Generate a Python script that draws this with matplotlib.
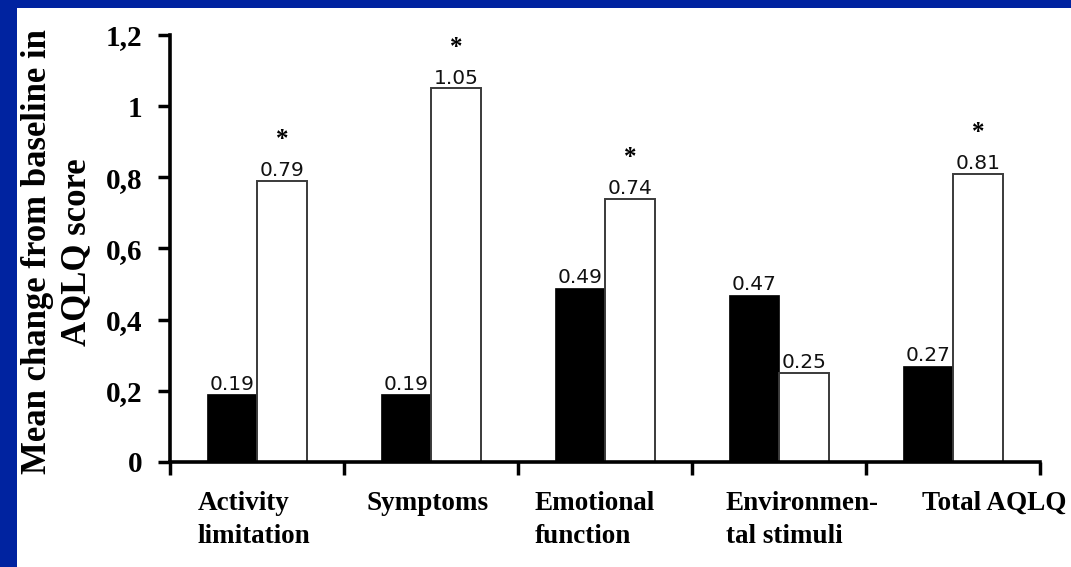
import matplotlib
matplotlib.use("Agg")
import matplotlib.pyplot as plt
import matplotlib.transforms as mtransforms
from matplotlib.patches import Rectangle
import numpy as np

# AQLQ domains and mean change from baseline for the two groups
categories = ["Activity\nlimitation", "Symptoms", "Emotional\nfunction",
              "Environmen-\ntal stimuli", "Total AQLQ"]
group_a = [0.19, 0.19, 0.49, 0.47, 0.27]
group_b = [0.79, 1.05, 0.74, 0.25, 0.81]
significant_b = [True, True, True, False, True]

y_ticks = [0, 0.2, 0.4, 0.6, 0.8, 1.0, 1.2]
y_tick_labels = ["0", "0,2", "0,4", "0,6", "0,8", "1", "1,2"]

serif = "Liberation Serif"
sans = "DejaVu Sans"

fig = plt.figure(figsize=(10.71, 5.67), dpi=100)
fig.patch.set_facecolor("white")

# blue slide frame along the top and left edges
frame_blue = "#0023a0"
fig.patches.append(Rectangle((0, 1 - 8 / 567), 1, 8 / 567, transform=fig.transFigure,
                             facecolor=frame_blue, edgecolor="none", zorder=0))
fig.patches.append(Rectangle((0, 0), 17 / 1071, 1, transform=fig.transFigure,
                             facecolor=frame_blue, edgecolor="none", zorder=0))

ax = fig.add_axes([170 / 1071, 1 - 462 / 567, 870 / 1071, 427 / 567])

x = np.arange(len(categories))
width = 0.29

bars_a = ax.bar(x - width / 2, group_a, width, color="black", edgecolor="black",
                linewidth=0.5, zorder=2)
bars_b = ax.bar(x + width / 2, group_b, width, color="white", edgecolor="#3a3a3a",
                linewidth=1.4, zorder=2)

for bars, vals in ((bars_a, group_a), (bars_b, group_b)):
    for rect, v in zip(bars, vals):
        ax.annotate(f"{v:.2f}", (rect.get_x() + rect.get_width() / 2, v),
                    xytext=(0, 0.5), textcoords="offset points",
                    ha="center", va="bottom", fontsize=14.5, family=sans,
                    color="#111111")

for rect, v, sig in zip(bars_b, group_b, significant_b):
    if sig:
        ax.annotate("*", (rect.get_x() + rect.get_width() / 2, v),
                    xytext=(0, 25), textcoords="offset points",
                    ha="center", va="baseline", fontsize=18, family=serif,
                    fontweight="bold", color="black")

ax.set_xlim(-0.5, len(categories) - 0.5)
ax.set_ylim(0, 1.2)

# y axis
ax.set_yticks(y_ticks)
ax.set_yticklabels(y_tick_labels, family=serif, fontweight="bold", fontsize=21)
ax.tick_params(axis="y", direction="out", length=9, width=2.5, pad=11)

# x axis: tick marks at group boundaries, labels at group centres
ax.set_xticks(np.arange(len(categories) + 1) - 0.5, minor=True)
ax.set_xticks(x)
ax.set_xticklabels(categories, family=serif, fontweight="bold", fontsize=19.5,
                   multialignment="left", linespacing=1.4)
ax.tick_params(axis="x", which="major", length=0, pad=21)
ax.tick_params(axis="x", which="minor", direction="out", length=9, width=2.5)

# the long labels overflow to the right of their group
for lbl, dx in zip(ax.get_xticklabels(), [-3, -3, -10, 23, 41]):
    lbl.set_transform(lbl.get_transform() +
                      mtransforms.ScaledTranslation(dx / 100, 0, fig.dpi_scale_trans))

for side in ("top", "right"):
    ax.spines[side].set_visible(False)
for side in ("left", "bottom"):
    ax.spines[side].set_linewidth(2.6)

fig.text(57 / 1071, 1 - 252 / 567, "Mean change from baseline in\nAQLQ score",
         rotation=90, ha="center", va="center", family=serif, fontweight="bold",
         fontsize=25, multialignment="center", linespacing=1.25)

fig.savefig("out.png", dpi=100, facecolor="white")
